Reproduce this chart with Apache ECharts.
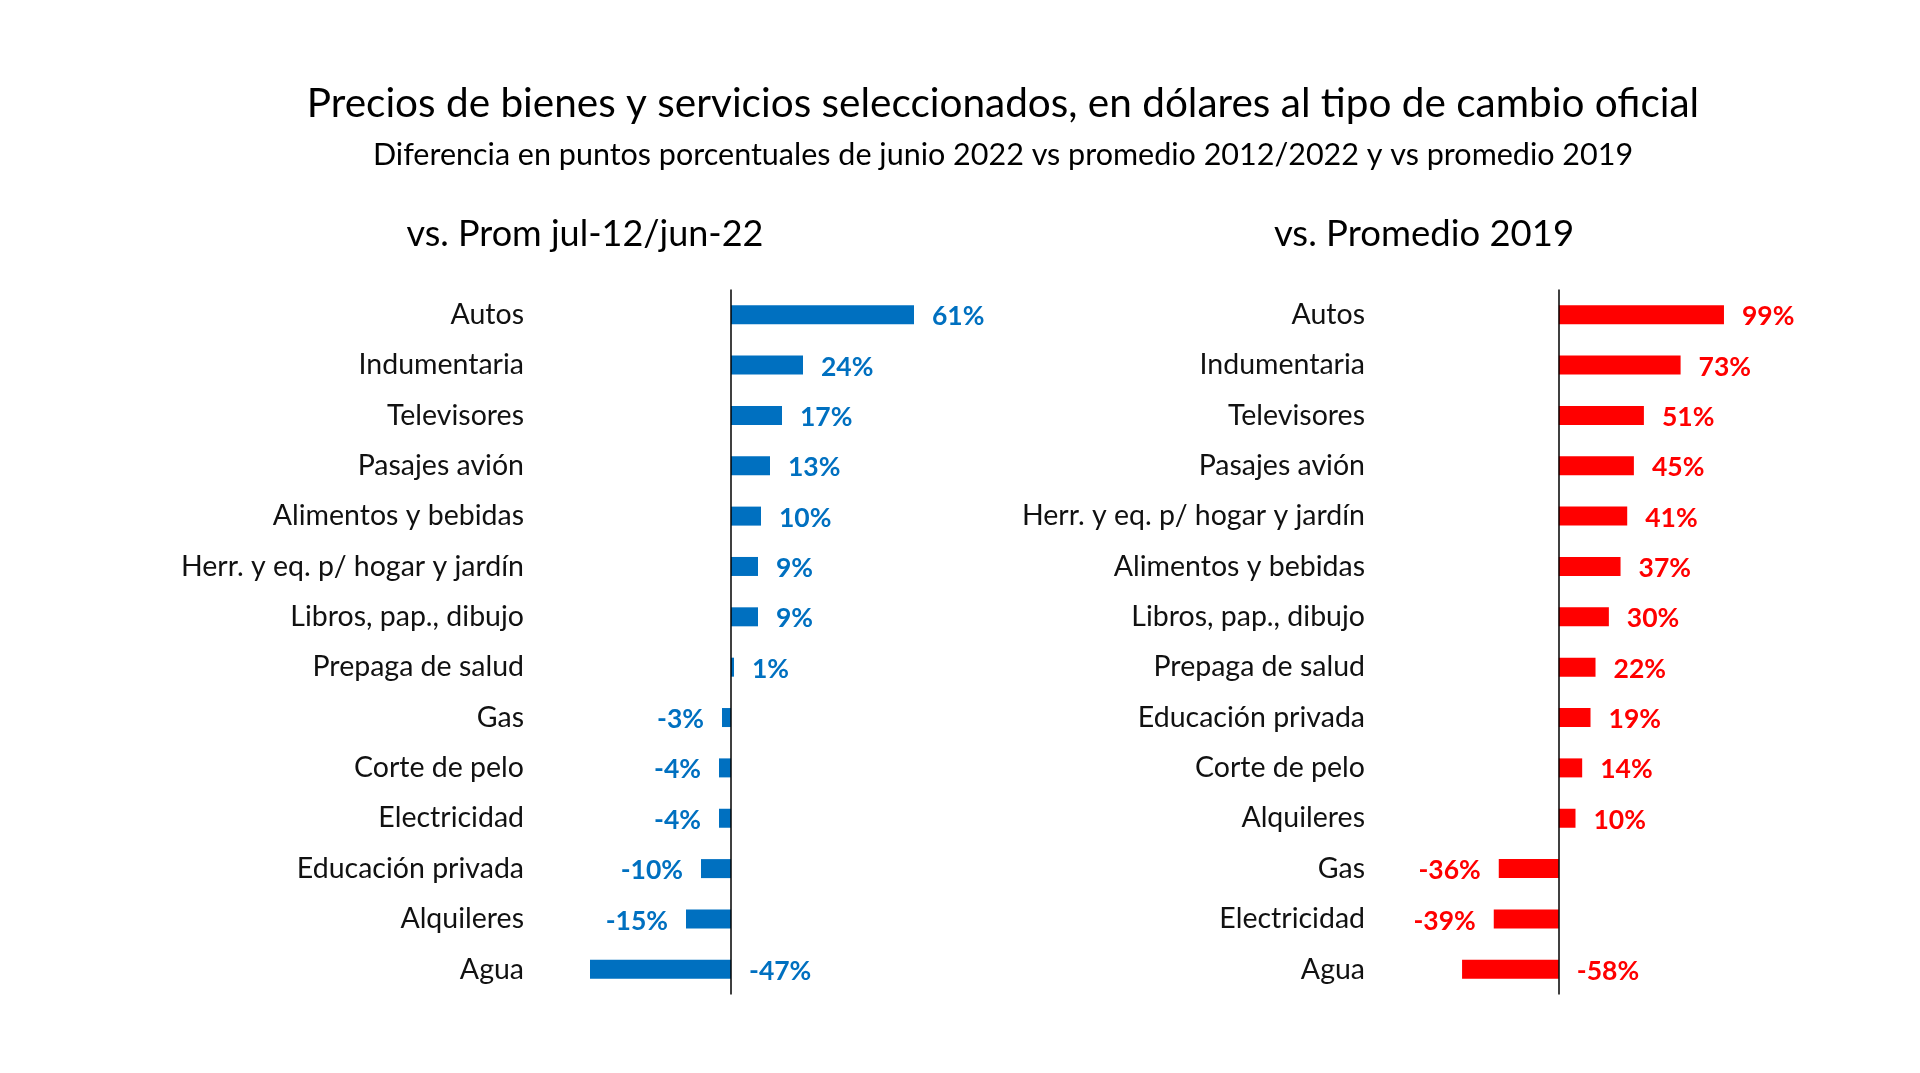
<!DOCTYPE html>
<html><head><meta charset="utf-8">
<script src="https://cdn.jsdelivr.net/npm/echarts@6/dist/echarts.min.js"></script>
<style>html,body{margin:0;padding:0;background:#fff}#c{width:1920px;height:1073px}</style>
</head><body><div id="c"></div>
<script>
const leftCategories = ["Autos","Indumentaria","Televisores","Pasajes avión","Alimentos y bebidas","Herr. y eq. p/ hogar y jardín","Libros, pap., dibujo","Prepaga de salud","Gas","Corte de pelo","Electricidad","Educación privada","Alquileres","Agua"];
const leftValues = [61,24,17,13,10,9,9,1,-3,-4,-4,-10,-15,-47];
const rightCategories = ["Autos","Indumentaria","Televisores","Pasajes avión","Herr. y eq. p/ hogar y jardín","Alimentos y bebidas","Libros, pap., dibujo","Prepaga de salud","Educación privada","Corte de pelo","Alquileres","Gas","Electricidad","Agua"];
const rightValues = [99,73,51,45,41,37,30,22,19,14,10,-36,-39,-58];

const FONT = 'Lato';
const BLUE = '#0070C0', RED = '#FF0000';

function barData(vals){
  return vals.map((v,i)=>{
    let pos = v >= 0 ? 'right' : 'left';
    if (i === vals.length-1 && v < 0) pos = 'right';
    return {value:v, label:{position:pos}};
  });
}
function series(idx, vals, color){
  return {
    type:'bar', xAxisIndex:idx, yAxisIndex:idx, barWidth:19,
    data: barData(vals),
    itemStyle:{color:color},
    label:{show:true, distance:18, offset:[0,2], color:color, fontFamily:FONT, fontWeight:'bold', fontSize:26.5, formatter:p=>p.value+'%'},
    markLine:{silent:true, symbol:'none', label:{show:false}, lineStyle:{color:'#000',width:1.5,type:'solid'}, data:[{xAxis:0}]}
  };
}
function yAx(idx, cats){
  return {type:'category', gridIndex:idx, data:cats, inverse:true,
    axisLine:{show:false}, axisTick:{show:false}, splitLine:{show:false},
    axisLabel:{color:'#111', fontFamily:FONT, fontSize:28.5, margin:27, padding:[4,0,0,0]}};
}
function xAx(idx, min, max){
  return {type:'value', gridIndex:idx, min:min, max:max, show:false, splitLine:{show:false}};
}
const chart = echarts.init(document.getElementById('c'));
chart.setOption({
  backgroundColor:'#fff',
  animation:false,
  title:[
    {text:'Precios de bienes y servicios seleccionados, en dólares al tipo de cambio oficial', left:998, top:78, textAlign:'center', textStyle:{fontFamily:FONT, fontSize:40.5, fontWeight:'normal', color:'#000'}},
    {text:'Diferencia en puntos porcentuales de junio 2022 vs promedio 2012/2022 y vs promedio 2019', left:998, top:135, textAlign:'center', textStyle:{fontFamily:FONT, fontSize:30.5, fontWeight:'normal', color:'#000'}},
    {text:'vs. Prom jul-12/jun-22', left:580, top:211, textAlign:'center', textStyle:{fontFamily:FONT, fontSize:36, fontWeight:'normal', color:'#000'}},
    {text:'vs. Promedio 2019', left:1419, top:211, textAlign:'center', textStyle:{fontFamily:FONT, fontSize:36.5, fontWeight:'normal', color:'#000'}}
  ],
  grid:[
    {left:551, width:420, top:289.5, height:705},
    {left:1392, width:367, top:289.5, height:705}
  ],
  xAxis:[xAx(0,-60,80), xAx(1,-100,120)],
  yAxis:[yAx(0,leftCategories), yAx(1,rightCategories)],
  series:[series(0,leftValues,BLUE), series(1,rightValues,RED)]
});
</script></body></html>
